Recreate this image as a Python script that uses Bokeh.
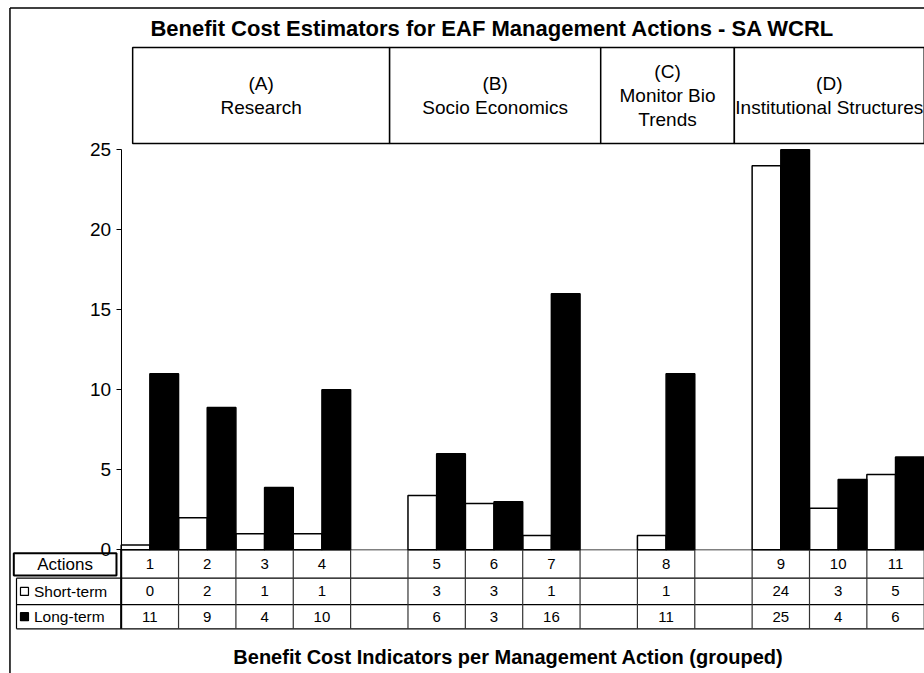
from bokeh.plotting import figure
from bokeh.models import Range1d, LinearAxis, FixedTicker
from bokeh.embed import file_html
from bokeh.resources import INLINE
from bokeh.core.properties import value

# ---------------- data ----------------
title_text = "Benefit Cost Estimators for EAF Management Actions - SA  WCRL"
xaxis_title = "Benefit Cost Indicators per Management Action (grouped)"
actions = ["1", "2", "3", "4", "5", "6", "7", "8", "9", "10", "11"]
group_sizes = [4, 3, 1, 3]
group_lines = [["(A)", "Research"],
               ["(B)", "Socio Economics"],
               ["(C)", "Monitor Bio", "Trends"],
               ["(D)", "Institutional Structures"]]
short_term = [0.3, 2.0, 1.0, 1.0, 3.4, 2.9, 0.9, 0.9, 24.0, 2.6, 4.7]
long_term = [11.0, 8.9, 3.9, 10.0, 6.0, 3.0, 16.0, 11.0, 25.0, 4.4, 5.8]
series_names = ["Short-term", "Long-term"]
row_header = "Actions"
y_ticks = [0, 5, 10, 15, 20, 25]

FONT = value("Liberation Sans")

# column index of each action (one blank column after each group)
cols = []
c = 0
for size in group_sizes:
    for _ in range(size):
        cols.append(c)
        c += 1
    c += 1
n_cols = 14

X0, X1 = -2.104, 14.005
Y0, Y1 = -7.73, 34.33

# ---------------- figure ----------------
p = figure(width=924, height=673, output_backend="svg", toolbar_location=None,
           x_range=Range1d(X0, X1), y_range=Range1d(Y0, Y1),
           x_axis_location=None, y_axis_location=None,
           min_border=0, min_border_left=0, min_border_right=0,
           min_border_top=0, min_border_bottom=0)
p.outline_line_color = None
p.xgrid.visible = False
p.ygrid.visible = False
p.background_fill_color = "white"
p.border_fill_color = "white"

# y axis placed at x = 0
yax = LinearAxis(fixed_location=0, bounds=(0, 25), ticker=FixedTicker(ticks=y_ticks))
yax.axis_line_color = "black"
yax.axis_line_width = 1
yax.major_tick_out = 5
yax.major_tick_in = 0
yax.minor_tick_line_color = None
yax.major_label_text_font = "Liberation Sans"
yax.major_label_text_font_size = "19px"
yax.major_label_text_color = "black"
yax.major_label_standoff = 5
p.add_layout(yax, "left")

# baseline (category axis line)
p.segment(x0=[0], y0=[0], x1=[n_cols], y1=[0], line_color="#808080", line_width=1.5)

# bars
p.quad(left=[x for x in cols], right=[x + 0.5 for x in cols], bottom=0, top=short_term,
       fill_color="white", line_color="black", line_width=1.5)
p.quad(left=[x + 0.5 for x in cols], right=[x + 1.0 for x in cols], bottom=0, top=long_term,
       fill_color="black", line_color="black", line_width=1.5)

# ---------------- data table ----------------
row_edges = [0, -1.775, -3.42, -4.94]
row_mid = [(row_edges[i] + row_edges[i + 1]) / 2 for i in range(3)]
label_left = -1.825

# horizontal lines
p.segment(x0=[label_left, label_left, label_left], y0=row_edges[1:],
          x1=[n_cols] * 3, y1=row_edges[1:], line_color="black", line_width=1.2)
# vertical column lines
p.segment(x0=list(range(n_cols + 1)), y0=[0] * (n_cols + 1),
          x1=list(range(n_cols + 1)), y1=[row_edges[-1]] * (n_cols + 1),
          line_color="#333333", line_width=1.2)
p.segment(x0=[0], y0=[0], x1=[0], y1=[row_edges[-1]], line_color="black", line_width=2)
p.segment(x0=[label_left], y0=[row_edges[1]], x1=[label_left], y1=[row_edges[-1]],
          line_color="black", line_width=1.2)

# "Actions" header box
p.quad(left=[-1.872], right=[-0.082], top=[-0.21], bottom=[-1.61],
       fill_color="white", line_color="black", line_width=2)
p.text(x=[-0.977], y=[-0.91], text=[row_header], text_align="center", text_baseline="middle",
       text_font=FONT, text_font_size="17px", text_color="black")

# series labels with keys
p.scatter(x=[-1.686, -1.686], y=[row_mid[1], row_mid[2]], marker="square", size=8,
          fill_color=["white", "black"], line_color="black", line_width=1.2)
p.text(x=[-1.52, -1.52], y=[row_mid[1], row_mid[2]], text=series_names,
       text_align="left", text_baseline="middle", text_font=FONT,
       text_font_size="15.5px", text_color="black")

centers = [x + 0.5 for x in cols]
p.text(x=centers, y=[row_mid[0]] * len(cols), text=actions, text_align="center",
       text_baseline="middle", text_font=FONT, text_font_size="15px", text_color="black")
p.text(x=centers, y=[row_mid[1]] * len(cols), text=[str(int(round(v))) for v in short_term],
       text_align="center", text_baseline="middle", text_font=FONT, text_font_size="15px",
       text_color="black")
p.text(x=centers, y=[row_mid[2]] * len(cols), text=[str(int(round(v))) for v in long_term],
       text_align="center", text_baseline="middle", text_font=FONT, text_font_size="15px",
       text_color="black")

# ---------------- group header boxes ----------------
box_edges = [0.2, 4.68, 8.36, 10.69, 14.0]
box_top, box_bottom = 31.39, 25.39
p.quad(left=box_edges[:-1], right=box_edges[1:], top=box_top, bottom=box_bottom,
       fill_color="white", line_color="black", line_width=1.5)
box_mid = (box_top + box_bottom) / 2
line_step = 1.5
gx, gy, gt = [], [], []
for i, lines in enumerate(group_lines):
    xc = (box_edges[i] + box_edges[i + 1]) / 2
    n = len(lines)
    for j, t in enumerate(lines):
        gx.append(xc)
        gy.append(box_mid + ((n - 1) / 2 - j) * line_step)
        gt.append(t)
p.text(x=gx, y=gy, text=gt, text_align="center", text_baseline="middle",
       text_font=FONT, text_font_size="19px", text_color="black")

# ---------------- titles ----------------
p.text(x=[6.53], y=[32.6], text=[title_text], text_align="center", text_baseline="middle",
       text_font=FONT, text_font_size="22px", text_font_style="bold", text_color="black")
p.text(x=[6.75], y=[-6.73], text=[xaxis_title], text_align="center", text_baseline="middle",
       text_font=FONT, text_font_size="20px", text_font_style="bold", text_color="black")

# chart area border (left and top edges visible)
bx, by = -1.939, 33.86
p.segment(x0=[bx, bx], y0=[Y0, by], x1=[bx, X1], y1=[by, by],
          line_color="black", line_width=1.5)

open("out.html", "w").write(file_html(p, INLINE))
